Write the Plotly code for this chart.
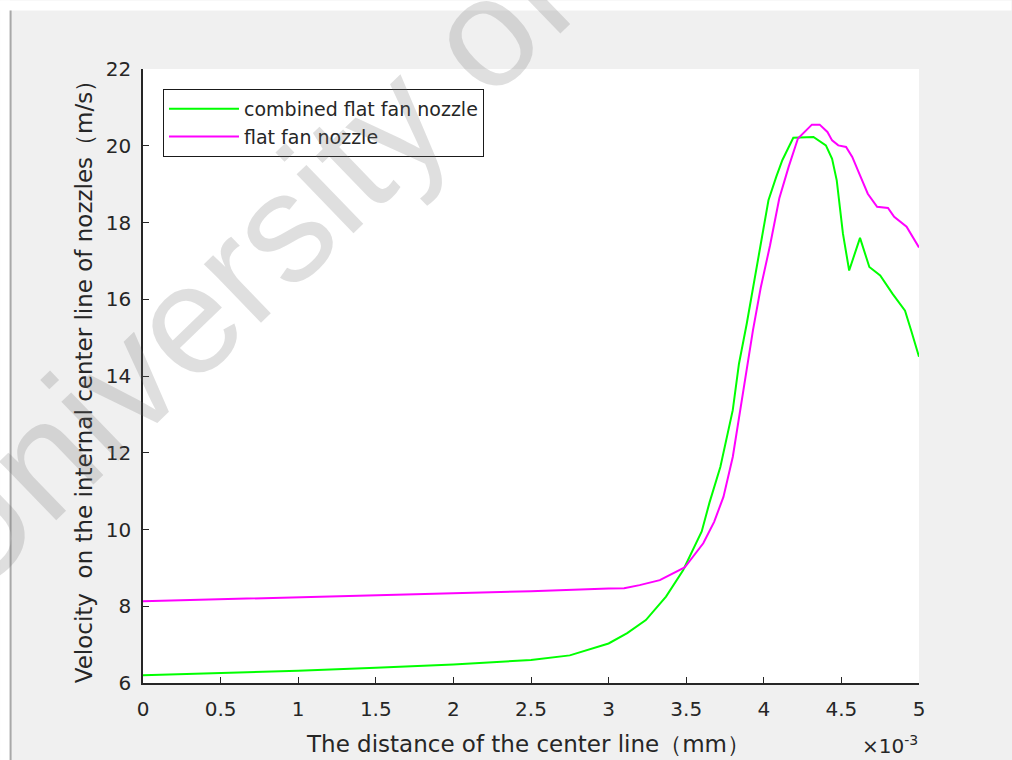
import plotly.graph_objects as go

# Distance along the nozzle centre line (m) and centre-line velocity (m/s)
combined_x = [0.0, 0.0005, 0.0010, 0.0015, 0.0020, 0.0025, 0.00275, 0.0030, 0.00312,
              0.00324, 0.00337, 0.00348, 0.00360, 0.00365, 0.00372, 0.00380, 0.00384,
              0.00389, 0.00393, 0.00397, 0.00403, 0.00408, 0.00412, 0.00419, 0.00432,
              0.00440, 0.00444, 0.00447, 0.00449, 0.00451, 0.00455, 0.00462, 0.00468,
              0.00475, 0.00483, 0.00491, 0.00495, 0.00500]
combined_v = [6.20, 6.26, 6.32, 6.40, 6.48, 6.60, 6.72, 7.03, 7.30,
              7.64, 8.25, 8.94, 9.95, 10.70, 11.63, 13.11, 14.32,
              15.36, 16.30, 17.28, 18.58, 19.19, 19.63, 20.21, 20.23,
              20.01, 19.66, 19.10, 18.42, 17.71, 16.75, 17.60, 16.84,
              16.62, 16.14, 15.70, 15.18, 14.50]

flat_x = [0.0, 0.0005, 0.0010, 0.0015, 0.0020, 0.0025, 0.0030, 0.00310, 0.00320,
          0.00333, 0.00349, 0.00361, 0.00368, 0.00374, 0.00380, 0.00387, 0.00393,
          0.00398, 0.00404, 0.00410, 0.00416, 0.00422, 0.00427, 0.00431, 0.00436,
          0.00441, 0.00444, 0.00448, 0.00453, 0.00457, 0.00462, 0.00467, 0.00473,
          0.00480, 0.00484, 0.00492, 0.00500]
flat_v = [8.13, 8.18, 8.23, 8.29, 8.34, 8.39, 8.46, 8.47, 8.55,
          8.68, 9.01, 9.64, 10.20, 10.85, 11.89, 13.63, 15.19,
          16.30, 17.40, 18.63, 19.45, 20.19, 20.40, 20.55, 20.55,
          20.36, 20.14, 20.01, 19.97, 19.71, 19.23, 18.75, 18.41,
          18.38, 18.15, 17.89, 17.35]

x_tick_vals = [0.0, 0.0005, 0.0010, 0.0015, 0.0020, 0.0025, 0.0030, 0.0035, 0.0040, 0.0045, 0.0050]
x_tick_text = ["0", "0.5", "1", "1.5", "2", "2.5", "3", "3.5", "4", "4.5", "5"]
y_tick_vals = [6, 8, 10, 12, 14, 16, 18, 20, 22]

W, H = 1012, 760
L, R, T, B = 143, 92.5, 68.5, 77
PW, PH = W - L - R, H - T - B


def px(xp):
    return (xp - L) / PW


def py(yp):
    return (H - B - yp) / PH


FONT = "DejaVu Sans"
INK = "#262626"

fig = go.Figure()
fig.add_trace(go.Scatter(x=combined_x, y=combined_v, mode="lines",
                         name="combined flat fan nozzle",
                         line=dict(color="#00ff00", width=2)))
fig.add_trace(go.Scatter(x=flat_x, y=flat_v, mode="lines",
                         name="flat fan nozzle",
                         line=dict(color="#ff00ff", width=2)))

shapes = [
    # white margin strips around the figure window
    dict(type="rect", xref="paper", yref="paper", x0=px(0), x1=px(10), y0=py(H), y1=py(0),
         fillcolor="white", line=dict(width=0), layer="below"),
    dict(type="rect", xref="paper", yref="paper", x0=px(0), x1=px(W), y0=py(10), y1=py(0),
         fillcolor="white", line=dict(width=0), layer="below"),
    dict(type="line", xref="paper", yref="paper", x0=px(10.5), x1=px(10.5), y0=py(H), y1=py(10),
         line=dict(color="#a8a8a8", width=2), layer="below"),
]

annotations = [
    dict(text="The distance of the center line（mm）", xref="paper", yref="paper",
         x=px(528), y=py(744), xanchor="center", yanchor="middle", showarrow=False,
         font=dict(family=FONT, size=23, color=INK)),
    dict(text="Velocity  on the internal center line of nozzles（m/s）", xref="paper", yref="paper",
         x=px(84), y=py(376), xanchor="center", yanchor="middle", showarrow=False,
         textangle=-90, font=dict(family=FONT, size=23, color=INK)),
    dict(text="×10<sup>-3</sup>", xref="paper", yref="paper",
         x=px(921), y=py(745), xanchor="right", yanchor="middle", showarrow=False,
         font=dict(family=FONT, size=20, color=INK)),
    dict(text="University of", xref="paper", yref="paper",
         x=px(238), y=py(270), xanchor="center", yanchor="middle", showarrow=False,
         textangle=-44, font=dict(family="Liberation Sans", size=155,
                                  color="rgba(110,110,110,0.22)")),
]

fig.update_layout(
    width=W, height=H,
    margin=dict(l=L, r=R, t=T, b=B),
    paper_bgcolor="#f0f0f0",
    plot_bgcolor="white",
    font=dict(family=FONT, size=20, color=INK),
    showlegend=True,
    legend=dict(x=px(163), y=py(88.5), xanchor="left", yanchor="top",
                bgcolor="white", bordercolor="#1a1a1a", borderwidth=1,
                font=dict(family=FONT, size=19, color=INK),
                itemwidth=70, tracegroupgap=0),
    shapes=shapes,
    annotations=annotations,
    xaxis=dict(range=[0, 0.005], tickvals=x_tick_vals, ticktext=x_tick_text,
               ticks="inside", ticklen=6, tickwidth=1.3, tickcolor=INK,
               showline=True, linecolor=INK, linewidth=1.5, mirror=False,
               showgrid=False, zeroline=False, ticklabelstandoff=7,
               tickfont=dict(family=FONT, size=20, color=INK)),
    yaxis=dict(range=[6, 22], tickvals=y_tick_vals,
               ticks="inside", ticklen=6, tickwidth=1.3, tickcolor=INK,
               showline=True, linecolor=INK, linewidth=1.5, mirror=False,
               showgrid=False, zeroline=False, ticklabelstandoff=6,
               tickfont=dict(family=FONT, size=20, color=INK)),
)

fig.write_html("out.html")
